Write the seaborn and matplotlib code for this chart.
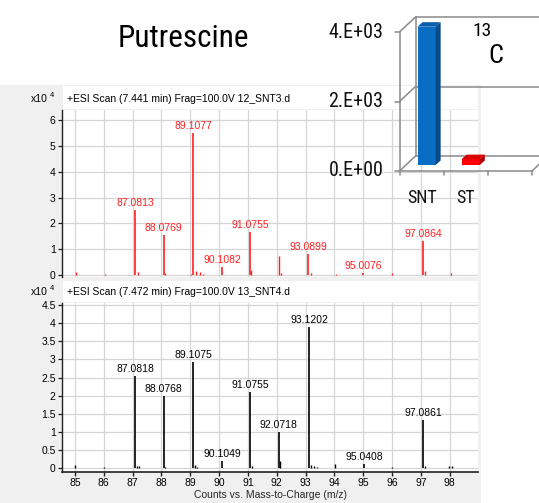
import numpy as np
import pandas as pd
import matplotlib
matplotlib.use("Agg")
import matplotlib.pyplot as plt
import seaborn as sns
from matplotlib.patches import Rectangle, Polygon
from matplotlib.lines import Line2D
import matplotlib.transforms as mtransforms
from matplotlib import font_manager as fm

# ---------------- data ----------------
title = "Putrescine"
scan1_title = "+ESI Scan (7.441 min) Frag=100.0V 12_SNT3.d"
scan2_title = "+ESI Scan (7.472 min) Frag=100.0V 13_SNT4.d"

mz1_labeled = [87.0813, 88.0769, 89.1077, 90.1082, 91.0755, 93.0899, 95.0076, 97.0864]
int1_labeled = [2.52, 1.55, 5.50, 0.30, 1.66, 0.80, 0.08, 1.30]
mz1_minor = [85.03, 86.04, 87.18, 88.13, 89.02, 89.20, 89.35, 89.45, 91.12, 92.07,
             92.15, 93.20, 94.05, 96.00, 97.15, 98.05]
int1_minor = [0.12, 0.05, 0.10, 0.06, 0.05, 0.15, 0.10, 0.05, 0.20, 0.75,
              0.08, 0.08, 0.05, 0.06, 0.15, 0.06]

mz2_labeled = [87.0818, 88.0768, 89.1075, 90.1049, 91.0755, 92.0718, 93.1202, 95.0408, 97.0861]
int2_labeled = [2.55, 2.00, 2.92, 0.20, 2.10, 1.00, 3.90, 0.10, 1.33]
mz2_minor = [85.00, 86.02, 87.15, 87.22, 88.12, 89.17, 89.25, 91.15, 92.12, 93.20,
             93.30, 93.38, 94.03, 96.00, 97.15, 97.97, 98.08]
int2_minor = [0.08, 0.04, 0.06, 0.05, 0.04, 0.07, 0.04, 0.06, 0.20, 0.07,
              0.05, 0.04, 0.10, 0.03, 0.06, 0.05, 0.05]

x_ticks = list(range(85, 99))
y1_ticks = [0, 1, 2, 3, 4, 5, 6]
y1_tick_labels = ["0", "1", "2", "3", "4", "5", "6"]
y2_ticks = [0, 0.5, 1, 1.5, 2, 2.5, 3, 3.5, 4, 4.5]
y2_tick_labels = ["0", "0.5", "1", "1.5", "2", "2.5", "3", "3.5", "4", "4.5"]
x_label = "Counts vs. Mass-to-Charge (m/z)"

categories = ["SNT", "ST"]
c13_values = [3980, 170]
inset_ticks = [0, 2000, 4000]
inset_tick_labels = ["0.E+00", "2.E+03", "4.E+03"]

# ---------------- style ----------------
sns.set_theme(style="white")
available = {f.name for f in fm.fontManager.ttflist}
NARROW_NAME = "Liberation Sans"
for cand in ["Liberation Sans Narrow", "Roboto Condensed", "Arial Narrow",
             "DejaVu Sans Condensed", "Roboto"]:
    if cand in available:
        NARROW_NAME = cand
        break
IS_NARROW = NARROW_NAME in ("Liberation Sans Narrow", "Roboto Condensed", "Arial Narrow",
                            "DejaVu Sans Condensed")
NARROW = [NARROW_NAME, "DejaVu Sans"]
SANS = ["Liberation Sans", "DejaVu Sans"]
plt.rcParams["font.family"] = SANS
NS = 1.0 if IS_NARROW else 0.9

W, H, DPI = 539, 503, 100
fig = plt.figure(figsize=(W / DPI, H / DPI), dpi=DPI, facecolor="white")


def frect(l, t, r, b):
    return [l / W, 1 - b / H, (r - l) / W, (b - t) / H]


def fx(x):
    return x / W


def fy(y):
    return 1 - y / H


# grey instrument frame and white title strips
fig.add_artist(Rectangle((0, fy(503)), fx(481), (503 - 85) / H, transform=fig.transFigure,
                         facecolor="#f0f0f0", edgecolor="none", zorder=-2))
for t, b in [(86, 109), (281, 302)]:
    fig.add_artist(Rectangle((fx(63), fy(b)), fx(478) - fx(63), (b - t) / H, transform=fig.transFigure,
                             facecolor="white", edgecolor="none", zorder=-1))

TXT = 7.5


def spectrum(ax, mz_lab, int_lab, mz_min, int_min, color, yticks, yticklabels, ylim, show_x):
    ax.set_facecolor("white")
    ax.set_xlim(84.55, 98.98)
    ax.set_ylim(*ylim)
    ax.set_xticks(x_ticks)
    ax.set_yticks(yticks)
    ax.set_yticklabels(yticklabels, fontsize=TXT)
    ax.grid(True, color="#d6d6d6", lw=0.9)
    ax.set_axisbelow(True)
    ax.vlines(mz_min, 0, int_min, color=color, lw=1.0)
    ax.vlines(mz_lab, 0, int_lab, color=color, lw=1.2)
    for m, v in zip(mz_lab, int_lab):
        ax.annotate(f"{m:.4f}", (m, v), xytext=(0, 1.5), textcoords="offset points",
                    ha="center", va="bottom", color=color, fontsize=TXT)
    for s in ["top", "right"]:
        ax.spines[s].set_visible(False)
    ax.spines["left"].set_color("#202020")
    ax.spines["left"].set_linewidth(1.0)
    ax.tick_params(axis="y", direction="out", length=3, width=0.9, pad=1.5, left=True,
                   colors="#202020", labelcolor="black")
    if show_x:
        ax.spines["bottom"].set_color("#202020")
        ax.spines["bottom"].set_linewidth(1.2)
        ax.set_xticklabels([str(t) for t in x_ticks], fontsize=TXT)
        ax.tick_params(axis="x", direction="out", length=3, width=1.0, pad=1.5, bottom=True,
                       colors="#202020", labelcolor="black")
        ax.set_xlabel(x_label, fontsize=TXT, labelpad=1.5)
    else:
        ax.spines["bottom"].set_visible(False)
        ax.tick_params(axis="x", bottom=False, labelbottom=False)


ax1 = fig.add_axes(frect(62, 110, 478, 277))
spectrum(ax1, mz1_labeled, int1_labeled, mz1_minor, int1_minor, "#ff2020",
         y1_ticks, y1_tick_labels, (-0.08, 6.39), False)
ax2 = fig.add_axes(frect(62, 303, 478, 472))
spectrum(ax2, mz2_labeled, int2_labeled, mz2_minor, int2_minor, "#000000",
         y2_ticks, y2_tick_labels, (-0.11, 4.56), True)

# strip titles and scale factors
for yc, txt in [(98.5, scan1_title), (292, scan2_title)]:
    fig.text(fx(67), fy(yc), txt, fontsize=TXT, ha="left", va="center", color="black")
    fig.text(fx(48), fy(yc), "x10", fontsize=TXT, ha="right", va="center", color="black")
    fig.text(fx(49.5), fy(yc - 3), "4", fontsize=5.5, ha="left", va="center", color="black")

# main title
fig.text(fx(183), fy(47), title, fontsize=22.5 * NS, family=NARROW, ha="center", va="baseline",
         color="black")

# ---------------- 3D-looking inset bar chart ----------------
ax3 = fig.add_axes(frect(399.5, 32, 532, 171), zorder=5)
df_c = pd.DataFrame({"sample": categories, "value": c13_values})
sns.barplot(data=df_c, x="sample", y="value", hue="sample", palette=["#0a6dc4", "#ff0000"],
            width=0.41, saturation=1, legend=False, ax=ax3, edgecolor="none", linewidth=0)
ax3.set_xlim(-0.5, 2.5)
ax3.set_ylim(0, 4000)
ax3.axis("off")
ax3.patch.set_alpha(0)

ident = mtransforms.IdentityTransform()
shift = mtransforms.ScaledTranslation(5 / DPI, 6 / DPI, fig.dpi_scale_trans)
DEPTH = np.array([16.0, 15.0])
BAR_D = np.array([5.0, 4.5])
side_cols = ["#064a86", "#b00000"]
top_cols = ["#0b5cab", "#d80000"]

box_col = "#8a8a8a"


def dline(p, q, lw=1.1, col=box_col, z=1):
    ax3.add_line(Line2D([p[0], q[0]], [p[1], q[1]], transform=ident, color=col, lw=lw,
                        clip_on=False, zorder=z))


T = ax3.transData
# back wall / floor lines
for t, lab in zip(inset_ticks, inset_tick_labels):
    a = T.transform((-0.5, t))
    b = a + DEPTH
    dline(a, b)
    e = T.transform((2.5, t)) + DEPTH + np.array([20, 0])
    dline(b, (e[0], b[1]))
    dline(a, a - np.array([5, 0]))
    ax3.text(a[0] - 16, a[1], lab, transform=ident, ha="right", va="center",
             fontsize=14.5 * NS, family=NARROW, color="#111111", clip_on=False)
f0 = T.transform((-0.5, 0))
f1 = T.transform((-0.5, 4000))
dline(f0, f1)
dline(f0 + DEPTH, f1 + DEPTH)
r0 = T.transform((2.5, 0))
dline(f0, r0)
dline(r0, r0 + DEPTH)
for xb in [-0.5, 0.5, 1.5, 2.5]:
    p = T.transform((xb, 0))
    dline(p, p - np.array([0, 4]))

# bars (front faces from seaborn) + side and top faces
for i, p in enumerate(list(ax3.patches)):
    p.set_transform(T + shift)
    p.set_zorder(3)
    p.set_clip_on(False)
    p.set_edgecolor("none")
    p.set_linewidth(0)
    x0, w, h = p.get_x(), p.get_width(), p.get_height()
    (X0, Y0), (X1, Y1) = (T + shift).transform([(x0, 0), (x0 + w, h)])
    dx, dy = BAR_D
    side = Polygon([(X1, Y0), (X1 + dx, Y0 + dy), (X1 + dx, Y1 + dy), (X1, Y1)], closed=True,
                   transform=ident, facecolor=side_cols[i], edgecolor="none", zorder=3, clip_on=False)
    top = Polygon([(X0, Y1), (X1, Y1), (X1 + dx, Y1 + dy), (X0 + dx, Y1 + dy)], closed=True,
                  transform=ident, facecolor=top_cols[i], edgecolor="none", zorder=3, clip_on=False)
    ax3.add_patch(side)
    ax3.add_patch(top)

for i, c in enumerate(categories):
    ax3.annotate(c, (i, 0), xytext=(0, -19.5), textcoords="offset points", ha="center",
                 va="center", fontsize=13 * NS, family=NARROW, color="#111111", annotation_clip=False)

# 13C label
fig.text(fx(472), fy(31), "13", fontsize=14 * NS, family=NARROW, ha="left", va="center",
         color="black", zorder=6)
fig.text(fx(488), fy(56), "C", fontsize=19 * NS, family=NARROW, ha="left", va="center",
         color="black", zorder=6)

fig.savefig("out.png", dpi=DPI, facecolor="white")
